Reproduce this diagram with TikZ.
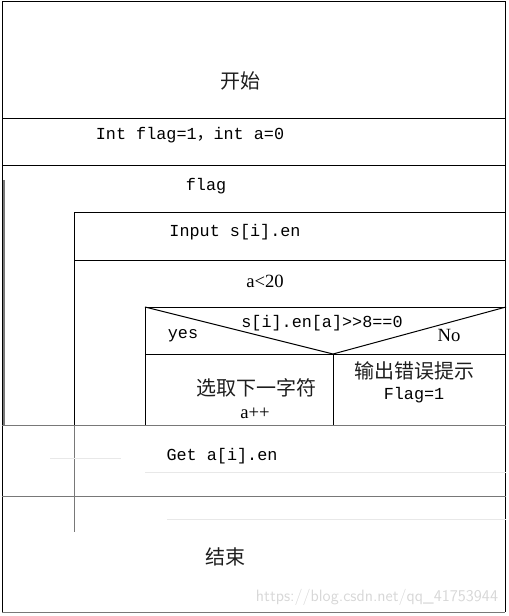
\documentclass[tikz,border=0pt]{standalone}
\usepackage{fontspec}
\setmainfont{Liberation Serif}
\setmonofont{Liberation Mono}
\newfontfamily\cjk{Noto Sans CJK SC}
\usetikzlibrary{positioning}
\definecolor{inkgray}{RGB}{30,30,30}
\definecolor{rulegray}{RGB}{120,120,120}
\definecolor{fadegray}{RGB}{232,232,232}
\definecolor{markgray}{RGB}{215,215,215}

\begin{document}
\begin{tikzpicture}[x=0.75pt, y=-0.75pt, line width=0.75pt,
  cn/.style={font=\cjk\fontsize{15}{18}\selectfont, text=inkgray, inner sep=0pt},
  tt/.style={font=\ttfamily\fontsize{12.6}{15}\selectfont, inner sep=0pt},
  rm/.style={font=\fontsize{14}{16}\selectfont, inner sep=0pt}]
  \useasboundingbox (0,0) rectangle (508,616);

  % Outer frame
  \draw (2,2) -- (505,2) -- (505,612);
  \draw (2,2) -- (2,612);
  \draw[rulegray] (2,612) -- (505,612);
  \draw[rulegray, line width=1.2pt] (4,180) -- (4,425);

  % Full width rows
  \draw (2,119) -- (506,119);
  \draw (2,166) -- (506,166);
  \draw[rulegray] (2,425) -- (506,425);
  \draw[rulegray] (2,496) -- (506,496);

  % Loop body: flag
  \draw (74,213) -- (506,213);
  \draw (74,260) -- (506,260);
  \draw (74,213) -- (74,425);
  \draw[rulegray] (74,425) -- (74,532);

  % Loop body: a<20 with branch
  \draw (145,307) -- (506,307);
  \draw (145,307) -- (145,425);
  \draw (145,307) -- (333,354) -- (506,307);
  \draw (145,354) -- (506,354);
  \draw (333,354) -- (333,425);

  % Faint scan marks
  \draw[fadegray] (50,458) -- (121,458);
  \draw[fadegray] (145,472) -- (506,472);
  \draw[fadegray] (167,519) -- (506,519);

  % Texts
  \node[cn] (start) at (240,81) {开始};
  \node[tt] (init) at (190,135) {Int flag=1{\cjk ，}int a=0};
  \node[tt] (flagloop) at (206,186) {flag};
  \node[tt] (input) at (235,232) {Input s[i].en};
  \node[rm] (aloop) at (265,281) {a<20};
  \node[tt] (cond) at (322,323) {s[i].en[a]>>8==0};
  \node[tt] (yes) at (183,336) {yes};
  \node[rm] (no) at (449,335) {No};
  \node[cn] (next) at (256,388) {选取下一字符};
  \node[rm] (incr) at (255,413) {a++};
  \node[cn] (err) at (414,371) {输出错误提示};
  \node[tt] (setflag) at (414,395) {Flag=1};
  \node[tt] (get) at (222,456) {Get a[i].en};
  \node[cn] (stop) at (225,557) {结束};
  \node[font=\sffamily\fontsize{12.3}{14}\selectfont, text=markgray, inner sep=0pt]
    (mark) at (377,597) {https://blog.csdn.net/qq\_41753944};
\end{tikzpicture}
\end{document}
